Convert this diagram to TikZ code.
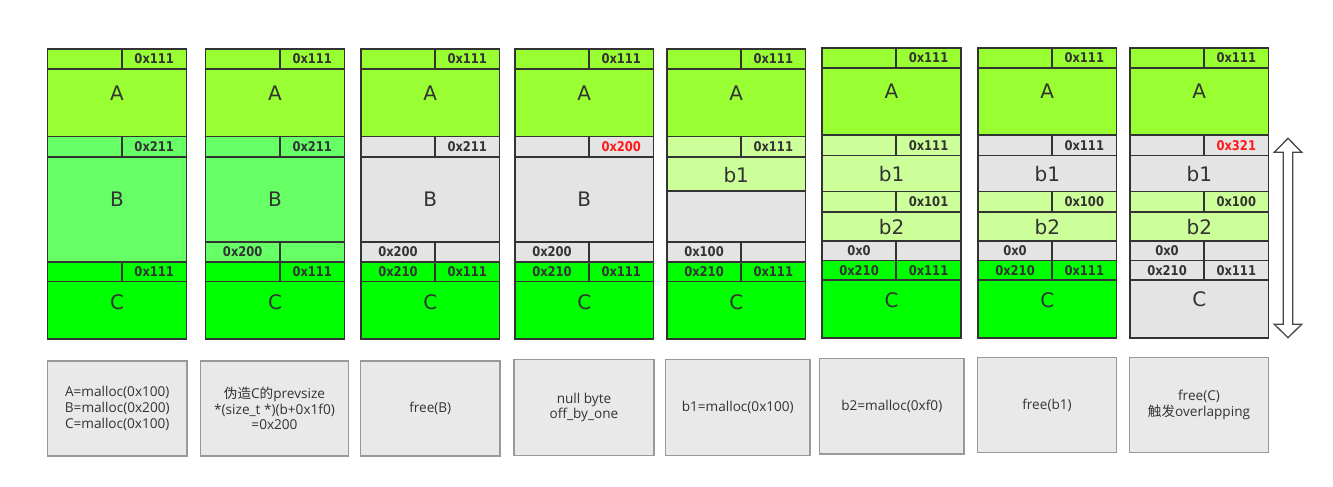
\documentclass[tikz,border=0pt]{standalone}
\usepackage{fontspec}
\setmainfont{DejaVu Sans}
\newfontfamily\hexfont[FakeStretch=0.86]{DejaVu Sans}
\newfontfamily\notefont{Open Sans}
\newfontfamily\cjk{Noto Sans CJK SC}
\definecolor{cA}{HTML}{99FF33}
\definecolor{cB}{HTML}{66FF66}
\definecolor{cC}{HTML}{00FF00}
\definecolor{cP}{HTML}{CCFF99}
\definecolor{cG}{HTML}{E4E4E4}
\definecolor{cEdge}{HTML}{333333}
\definecolor{cTxt}{HTML}{333333}
\definecolor{cRed}{HTML}{FF1A1A}
\definecolor{cNote}{HTML}{E9E9E9}
\definecolor{cNoteEdge}{HTML}{999999}
\tikzset{
  heap/.style={draw=cEdge, line width=1.7pt, inner sep=0pt},
  hexlbl/.style={font=\hexfont\bfseries\fontsize{13.4}{13.4}\selectfont, text=cTxt},
  redlbl/.style={font=\hexfont\bfseries\fontsize{13.4}{13.4}\selectfont, text=cRed},
  biglbl/.style={font=\fontsize{20}{20}\selectfont, text=cTxt, inner sep=0pt},
  note/.style={draw=cNoteEdge, fill=cNote, line width=1.5pt, inner sep=0pt, align=center,
     text=cTxt, font=\notefont\fontsize{13.6}{15.7}\selectfont},
  bigarrow/.style={draw=cEdge!90, line width=1.3pt, fill=white, line join=miter}
}
% name, x1, y1, x2, y2, fill, label style, text
\newcommand\cell[8]{\node[heap, fill=#6, #7, minimum width={(#4-#2)*1pt}, minimum height={(#5-#3)*1pt}] (#1) at ({(#2+#4)/2},{(#3+#5)/2}) {#8};}
% name, x1, y1, x2, y2, fill, text, upward shift of the text
\newcommand\bigcell[8]{\cell{#1}{#2}{#3}{#4}{#5}{#6}{}{}\node[biglbl] (#1-t) at ([yshift=#8pt]#1.center) {#7};}
% name, x1, y1, x2, y2, text
\newcommand\notebox[6]{\node[note, minimum width={(#4-#2)*1pt}, minimum height={(#5-#3)*1pt}] (#1) at ({(#2+#4)/2},{(#3+#5)/2}) {#6};}
\begin{document}
\begin{tikzpicture}[x=1pt,y=-1pt]
\useasboundingbox[fill=white] (0,0) rectangle (1333,487);
% ---------- column 1 ----------
\cell{a1l}{47.5}{49}{122}{69}{cA}{hexlbl}{}
\cell{a1r}{122}{49}{186.5}{69}{cA}{hexlbl}{0x111}
\bigcell{a1}{47.5}{69}{186.5}{136.5}{cA}{A}{10}
\cell{b1l}{47.5}{136.5}{122}{157}{cB}{hexlbl}{}
\cell{b1r}{122}{136.5}{186.5}{157}{cB}{hexlbl}{0x211}
\bigcell{b1}{47.5}{157}{186.5}{262}{cB}{B}{10}
\cell{c1l}{47.5}{262}{122}{281.5}{cC}{hexlbl}{}
\cell{c1r}{122}{262}{186.5}{281.5}{cC}{hexlbl}{0x111}
\bigcell{c1}{47.5}{281.5}{186.5}{339}{cC}{C}{8.5}
% ---------- column 2 ----------
\cell{a2l}{205.5}{49}{280}{69}{cA}{hexlbl}{}
\cell{a2r}{280}{49}{344.5}{69}{cA}{hexlbl}{0x111}
\bigcell{a2}{205.5}{69}{344.5}{136.5}{cA}{A}{10}
\cell{b2l}{205.5}{136.5}{280}{157}{cB}{hexlbl}{}
\cell{b2r}{280}{136.5}{344.5}{157}{cB}{hexlbl}{0x211}
\bigcell{b2}{205.5}{157}{344.5}{242}{cB}{B}{0}
\cell{f2l}{205.5}{242}{280}{262}{cB}{hexlbl}{0x200}
\cell{f2r}{280}{242}{344.5}{262}{cB}{hexlbl}{}
\cell{c2l}{205.5}{262}{280}{281.5}{cC}{hexlbl}{}
\cell{c2r}{280}{262}{344.5}{281.5}{cC}{hexlbl}{0x111}
\bigcell{c2}{205.5}{281.5}{344.5}{339}{cC}{C}{8.5}
% ---------- column 3 ----------
\cell{a3l}{361}{49}{435}{69}{cA}{hexlbl}{}
\cell{a3r}{435}{49}{499.5}{69}{cA}{hexlbl}{0x111}
\bigcell{a3}{361}{69}{499.5}{136.5}{cA}{A}{10}
\cell{b3l}{361}{136.5}{435}{157}{cG}{hexlbl}{}
\cell{b3r}{435}{136.5}{499.5}{157}{cG}{hexlbl}{0x211}
\bigcell{b3}{361}{157}{499.5}{242}{cG}{B}{0}
\cell{f3l}{361}{242}{435}{262}{cG}{hexlbl}{0x200}
\cell{f3r}{435}{242}{499.5}{262}{cG}{hexlbl}{}
\cell{c3l}{361}{262}{435}{281.5}{cC}{hexlbl}{0x210}
\cell{c3r}{435}{262}{499.5}{281.5}{cC}{hexlbl}{0x111}
\bigcell{c3}{361}{281.5}{499.5}{339}{cC}{C}{8.5}
% ---------- column 4 ----------
\cell{a4l}{515}{49}{589}{69}{cA}{hexlbl}{}
\cell{a4r}{589}{49}{653.5}{69}{cA}{hexlbl}{0x111}
\bigcell{a4}{515}{69}{653.5}{136.5}{cA}{A}{10}
\cell{b4l}{515}{136.5}{589}{157}{cG}{hexlbl}{}
\cell{b4r}{589}{136.5}{653.5}{157}{cG}{redlbl}{0x200}
\bigcell{b4}{515}{157}{653.5}{242}{cG}{B}{0}
\cell{f4l}{515}{242}{589}{262}{cG}{hexlbl}{0x200}
\cell{f4r}{589}{242}{653.5}{262}{cG}{hexlbl}{}
\cell{c4l}{515}{262}{589}{281.5}{cC}{hexlbl}{0x210}
\cell{c4r}{589}{262}{653.5}{281.5}{cC}{hexlbl}{0x111}
\bigcell{c4}{515}{281.5}{653.5}{339}{cC}{C}{8.5}
% ---------- column 5 ----------
\cell{a5l}{667}{49}{741}{69}{cA}{hexlbl}{}
\cell{a5r}{741}{49}{805.5}{69}{cA}{hexlbl}{0x111}
\bigcell{a5}{667}{69}{805.5}{136.5}{cA}{A}{10}
\cell{b5l}{667}{136.5}{741}{157}{cP}{hexlbl}{}
\cell{b5r}{741}{136.5}{805.5}{157}{cP}{hexlbl}{0x111}
\bigcell{b5}{667}{157}{805.5}{191}{cP}{b1}{-1}
\cell{g5}{667}{191}{805.5}{242}{cG}{hexlbl}{}
\cell{f5l}{667}{242}{741}{262}{cG}{hexlbl}{0x100}
\cell{f5r}{741}{242}{805.5}{262}{cG}{hexlbl}{}
\cell{c5l}{667}{262}{741}{281.5}{cC}{hexlbl}{0x210}
\cell{c5r}{741}{262}{805.5}{281.5}{cC}{hexlbl}{0x111}
\bigcell{c5}{667}{281.5}{805.5}{339}{cC}{C}{8.5}
% ---------- column 6 ----------
\cell{a6l}{822}{48}{896}{68}{cA}{hexlbl}{}
\cell{a6r}{896}{48}{961}{68}{cA}{hexlbl}{0x111}
\bigcell{a6}{822}{68}{961}{135}{cA}{A}{10}
\cell{b6l}{822}{135}{896}{155.5}{cP}{hexlbl}{}
\cell{b6r}{896}{135}{961}{155.5}{cP}{hexlbl}{0x111}
\bigcell{b6}{822}{155.5}{961}{191.5}{cP}{b1}{-1}
\cell{d6l}{822}{191.5}{896}{212}{cP}{hexlbl}{}
\cell{d6r}{896}{191.5}{961}{212}{cP}{hexlbl}{0x101}
\bigcell{d6}{822}{212}{961}{241}{cP}{b2}{-1}
\cell{f6l}{822}{241}{896}{260.5}{cG}{hexlbl}{0x0}
\cell{f6r}{896}{241}{961}{260.5}{cG}{hexlbl}{}
\cell{c6l}{822}{260.5}{896}{280}{cC}{hexlbl}{0x210}
\cell{c6r}{896}{260.5}{961}{280}{cC}{hexlbl}{0x111}
\bigcell{c6}{822}{280}{961}{338}{cC}{C}{9}
% ---------- column 7 ----------
\cell{a7l}{978}{48}{1052}{68}{cA}{hexlbl}{}
\cell{a7r}{1052}{48}{1116.5}{68}{cA}{hexlbl}{0x111}
\bigcell{a7}{978}{68}{1116.5}{135}{cA}{A}{10}
\cell{b7l}{978}{135}{1052}{155.5}{cG}{hexlbl}{}
\cell{b7r}{1052}{135}{1116.5}{155.5}{cG}{hexlbl}{0x111}
\bigcell{b7}{978}{155.5}{1116.5}{191.5}{cG}{b1}{-1}
\cell{d7l}{978}{191.5}{1052}{212}{cP}{hexlbl}{}
\cell{d7r}{1052}{191.5}{1116.5}{212}{cP}{hexlbl}{0x100}
\bigcell{d7}{978}{212}{1116.5}{241}{cP}{b2}{-1}
\cell{f7l}{978}{241}{1052}{260.5}{cG}{hexlbl}{0x0}
\cell{f7r}{1052}{241}{1116.5}{260.5}{cG}{hexlbl}{}
\cell{c7l}{978}{260.5}{1052}{280}{cC}{hexlbl}{0x210}
\cell{c7r}{1052}{260.5}{1116.5}{280}{cC}{hexlbl}{0x111}
\bigcell{c7}{978}{280}{1116.5}{338}{cC}{C}{9}
% ---------- column 8 ----------
\cell{a8l}{1130}{48}{1204}{68}{cA}{hexlbl}{}
\cell{a8r}{1204}{48}{1268.5}{68}{cA}{hexlbl}{0x111}
\bigcell{a8}{1130}{68}{1268.5}{135}{cA}{A}{10}
\cell{b8l}{1130}{135}{1204}{155.5}{cG}{hexlbl}{}
\cell{b8r}{1204}{135}{1268.5}{155.5}{cG}{redlbl}{0x321}
\bigcell{b8}{1130}{155.5}{1268.5}{191.5}{cG}{b1}{-1}
\cell{d8l}{1130}{191.5}{1204}{212}{cP}{hexlbl}{}
\cell{d8r}{1204}{191.5}{1268.5}{212}{cP}{hexlbl}{0x100}
\bigcell{d8}{1130}{212}{1268.5}{241}{cP}{b2}{-1}
\cell{f8l}{1130}{241}{1204}{260.5}{cG}{hexlbl}{0x0}
\cell{f8r}{1204}{241}{1268.5}{260.5}{cG}{hexlbl}{}
\cell{c8l}{1130}{260.5}{1204}{280}{cG}{hexlbl}{0x210}
\cell{c8r}{1204}{260.5}{1268.5}{280}{cG}{hexlbl}{0x111}
\bigcell{c8}{1130}{280}{1268.5}{338}{cG}{C}{9.5}
% ---------- double arrow ----------
\draw[bigarrow] (1288,138.3) -- (1301.7,152.3) -- (1292.7,152.3) -- (1292.7,324.3)
  -- (1301.7,324.3) -- (1288,337.7) -- (1274.3,324.3) -- (1283.3,324.3)
  -- (1283.3,152.3) -- (1274.3,152.3) -- cycle;
% ---------- notes ----------
\notebox{n1}{47.5}{361}{187}{456}{A=malloc(0x100)\\B=malloc(0x200)\\C=malloc(0x100)}
\notebox{n2}{200.5}{361}{348.5}{456}{{\cjk 伪造}C{\cjk 的}prevsize\\*(size\_t *)(b+0x1f0)\\=0x200}
\notebox{n3}{360.5}{361}{500}{456}{free(B)}
\notebox{n4}{514}{359.5}{654}{455.5}{null byte\\off\_by\_one}
\notebox{n5}{665.5}{359.5}{810}{455.5}{b1=malloc(0x100)}
\notebox{n6}{819.5}{358.5}{964}{454}{b2=malloc(0xf0)}
\notebox{n7}{977.5}{357.5}{1116.5}{452.5}{free(b1)}
\notebox{n8}{1129.5}{357.5}{1268.5}{452.5}{free(C)\\{\cjk 触发}overlapping}
\end{tikzpicture}
\end{document}
